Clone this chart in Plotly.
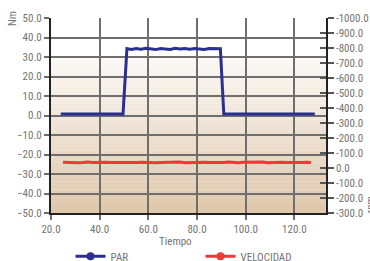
import plotly.graph_objects as go

# ---- data ----
par_x = [24, 30, 40, 49.6, 51.2, 53, 55, 57, 59, 61, 63, 65, 67, 69, 71, 73, 75, 77, 79,
         81, 83, 85, 87, 89.6, 91, 100, 110, 120, 128.4]
par_y = [0.8, 0.8, 0.8, 0.8, 34.3, 33.9, 34.4, 34.0, 34.5, 34.1, 33.8, 34.4, 34.2, 33.9,
         34.5, 34.1, 34.3, 34.0, 34.4, 34.2, 33.9, 34.3, 34.1, 34.2, 0.8, 0.8, 0.8, 0.8, 0.8]

vel_x = [24.9, 27, 29, 31, 33, 35, 37, 39, 41, 43, 45, 47, 49, 51, 53, 55, 57, 59, 61, 63,
         65, 67, 69, 71, 73, 75, 77, 79, 81, 83, 85, 87, 89, 91, 93, 95, 97, 99, 101, 103,
         105, 107, 109, 111, 113, 115, 117, 119, 121, 123, 125, 126.8]
vel_y = [38, 36, 39, 35, 37, 40, 36, 38, 35, 39, 37, 36, 40, 35, 38, 37, 39, 36, 38, 35,
         37, 39, 36, 38, 40, 35, 37, 38, 36, 39, 37, 35, 38, 36, 40, 37, 35, 38, 39, 36,
         37, 40, 35, 38, 36, 39, 37, 35, 38, 36, 39, 37]

x_ticks = [20, 40, 60, 80, 100, 120]
left_ticks = [-50, -40, -30, -20, -10, 0, 10, 20, 30, 40, 50]
right_ticks = [-300, -200, -100, 0, 100, 200, 300, 400, 500, 600, 700, 800, 900, 1000]
right_labels = ["-300.0", "-200.0", "-100.0", "0.0", "-100.0", "-200.0", "-300.0", "-400.0",
                "-500.0", "-600.0", "-700.0", "-800.0", "-900.0", "-1000.0"]

FONT = "Liberation Sans Narrow, Arial Narrow, Roboto Condensed, Liberation Sans, sans-serif"
GREY = "#747474"
GRID = "#6e6e6e"
NAVY = "#2b2f8f"
RED = "#ee3a36"

fig = go.Figure()
fig.add_trace(go.Scatter(x=par_x, y=par_y, name="PAR", mode="lines",
                         line=dict(color=NAVY, width=3), yaxis="y", showlegend=False))
fig.add_trace(go.Scatter(x=vel_x, y=vel_y, name="VELOCIDAD", mode="lines",
                         line=dict(color=RED, width=3), yaxis="y2", showlegend=False))
# legend entries
fig.add_trace(go.Scatter(x=[None], y=[None], name="PAR", mode="lines+markers",
                         line=dict(color=NAVY, width=3), marker=dict(size=8, color=NAVY)))
fig.add_trace(go.Scatter(x=[None], y=[None], name="VELOCIDAD", mode="lines+markers",
                         line=dict(color=RED, width=3), marker=dict(size=8, color=RED)))
fig.add_trace(go.Scatter(x=[None], y=[None], yaxis="y3", showlegend=False, hoverinfo="skip"))

# background gradient (style)
top, bot = 30.0, -50.0
c0 = (252, 250, 247)
c1 = (222, 199, 170)
n = 40
shapes = []
for i in range(n):
    t = (i + 0.5) / n
    r = int(c0[0] + (c1[0] - c0[0]) * t)
    g = int(c0[1] + (c1[1] - c0[1]) * t)
    b = int(c0[2] + (c1[2] - c0[2]) * t)
    y0 = top - (top - bot) * i / n
    y1 = top - (top - bot) * (i + 1) / n
    shapes.append(dict(type="rect", xref="paper", yref="y", x0=0, x1=1, y0=y1, y1=y0 + 0.05,
                       fillcolor=f"rgb({r},{g},{b})", line=dict(width=0), layer="below"))

fig.update_layout(
    width=370, height=261,
    margin=dict(l=51, r=44, t=18, b=48, autoexpand=False),
    paper_bgcolor="white", plot_bgcolor="white",
    font=dict(family=FONT, size=11, color=GREY),
    shapes=shapes,
    showlegend=True,
    legend=dict(orientation="h", x=0.071, y=-0.222, xanchor="left", yanchor="middle",
                entrywidth=85, entrywidthmode="pixels",
                font=dict(family=FONT, size=11, color=GREY), bgcolor="rgba(0,0,0,0)"),
    xaxis=dict(range=[20, 133], tickvals=x_ticks, tickformat=".1f",
               showgrid=True, gridcolor=GRID, gridwidth=1.5,
               showline=True, linecolor="#222", linewidth=2,
               ticks="outside", ticklen=5, tickcolor=GRID, tickwidth=1.5,
               zeroline=False, automargin=False),
    yaxis=dict(range=[-50, 50], tickvals=left_ticks, tickformat=".1f",
               showgrid=True, gridcolor=GRID, gridwidth=1.5,
               showline=True, linecolor="#222", linewidth=2,
               ticks="outside", ticklen=5, tickcolor=GRID, tickwidth=1.5,
               zeroline=False, automargin=False),
    yaxis2=dict(range=[-300, 1000], tickvals=right_ticks, ticktext=right_labels,
                overlaying="y", side="right", anchor="x",
                showgrid=False, zeroline=False, automargin=False,
                showline=True, linecolor="#222", linewidth=1.5,
                ticks="outside", ticklen=6, tickcolor="#555", tickwidth=1.5),
    yaxis3=dict(range=[-300, 1000], tickvals=right_ticks, overlaying="y", side="right",
                anchor="x", showgrid=False, zeroline=False, showticklabels=False,
                automargin=False,
                showline=False, ticks="inside", ticklen=6, tickcolor="#555", tickwidth=1.5),
    annotations=[
        dict(text="Nm", xref="paper", yref="paper", x=-0.142, y=1.0, showarrow=False,
             xanchor="center", yanchor="middle",
             textangle=-90, font=dict(family=FONT, size=11, color=GREY)),
        dict(text="rpm", xref="paper", yref="paper", x=1.16, y=0.04, showarrow=False,
             xanchor="center", yanchor="middle",
             textangle=-90, font=dict(family=FONT, size=11, color=GREY)),
        dict(text="Tiempo", xref="paper", yref="paper", x=0.451, y=-0.144, showarrow=False,
             xanchor="center", yanchor="middle",
             font=dict(family=FONT, size=11, color=GREY)),
    ],
)

fig.write_html("out.html", config={"displayModeBar": False},
               post_script="document.body.style.margin='0';")
